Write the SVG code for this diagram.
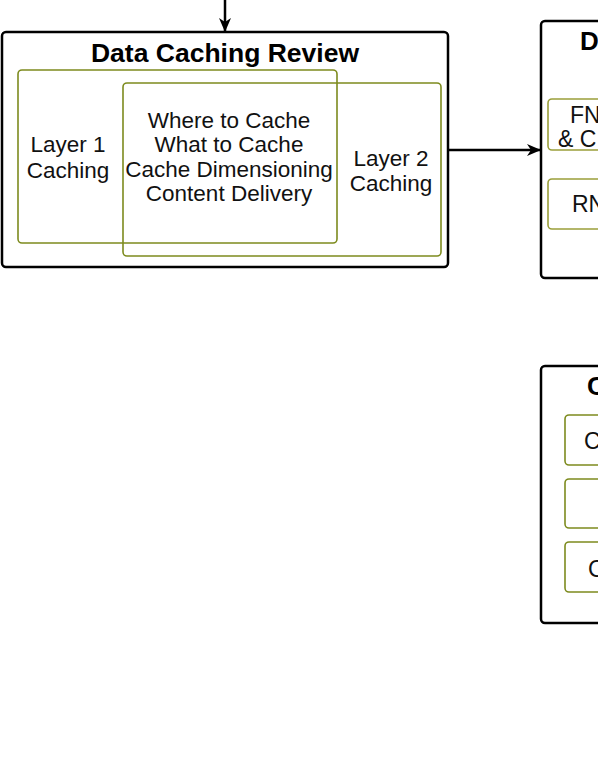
<svg xmlns="http://www.w3.org/2000/svg" width="598" height="774" viewBox="0 0 598 774">
<defs>
<marker id="ah" markerWidth="14" markerHeight="12" refX="13" refY="6" orient="auto" markerUnits="userSpaceOnUse">
<path d="M0,0 L14,6 L0,12 L4,6 Z" fill="#000"/>
</marker>
</defs>
<style>
.outer{fill:#fff;stroke:#000;stroke-width:2.5}
.inner{fill:none;stroke:#7d8b1e;stroke-width:1.6}
.innerf{fill:#fff;stroke:#9a9f3a;stroke-width:1.6}
.t{font-family:"Liberation Sans",Arial,sans-serif;font-size:22.5px;fill:#111;text-anchor:middle}
.title{font-family:"Liberation Sans",Arial,sans-serif;font-size:26.5px;font-weight:bold;fill:#000;text-anchor:middle}
.tl{font-family:"Liberation Sans",Arial,sans-serif;font-size:23px;fill:#111}
.tb{font-family:"Liberation Sans",Arial,sans-serif;font-size:26px;font-weight:bold;fill:#000}
.c{stroke:#000;stroke-width:2.5;fill:none}
</style>
<g id="data-caching-review">
<rect class="outer" x="2" y="32" width="446" height="235" rx="4"/>
<text class="title" x="225" y="62">Data Caching Review</text>
<rect class="inner" x="18" y="70" width="319" height="173" rx="4"/>
<rect class="inner" x="123" y="83" width="318" height="173" rx="4"/>
<text class="t" x="68" y="152">Layer 1</text>
<text class="t" x="68" y="178">Caching</text>
<text class="t" x="229" y="128">Where to Cache</text>
<text class="t" x="229" y="152">What to Cache</text>
<text class="t" x="229" y="177">Cache Dimensioning</text>
<text class="t" x="229" y="201">Content Delivery</text>
<text class="t" x="391" y="166">Layer 2</text>
<text class="t" x="391" y="191">Caching</text>
</g>
<g id="right-top">
<rect class="outer" x="541" y="21" width="80" height="257" rx="4"/>
<text class="tb" x="580" y="50">D</text>
<rect class="innerf" x="548" y="99" width="70" height="51" rx="4"/>
<text class="tl" x="570" y="123">FN</text>
<text class="tl" x="558" y="147">&amp; C</text>
<rect class="innerf" x="548" y="179" width="70" height="50" rx="4"/>
<text class="tl" x="572" y="212">RN</text>
</g>
<g id="right-bottom">
<rect class="outer" x="541" y="366" width="80" height="257" rx="4"/>
<text class="tb" x="587" y="395">C</text>
<rect class="inner" x="565" y="415" width="50" height="50" rx="4"/>
<text class="tl" x="584" y="449">C</text>
<rect class="inner" x="565" y="479" width="50" height="49" rx="4"/>
<rect class="inner" x="565" y="542" width="50" height="50" rx="4"/>
<text class="tl" x="588" y="577">C</text>
</g>
<g id="connectors">
<line class="c" x1="225" y1="0" x2="225" y2="31" marker-end="url(#ah)"/>
<line class="c" x1="448" y1="150" x2="540" y2="150" marker-end="url(#ah)"/>
</g>
</svg>
